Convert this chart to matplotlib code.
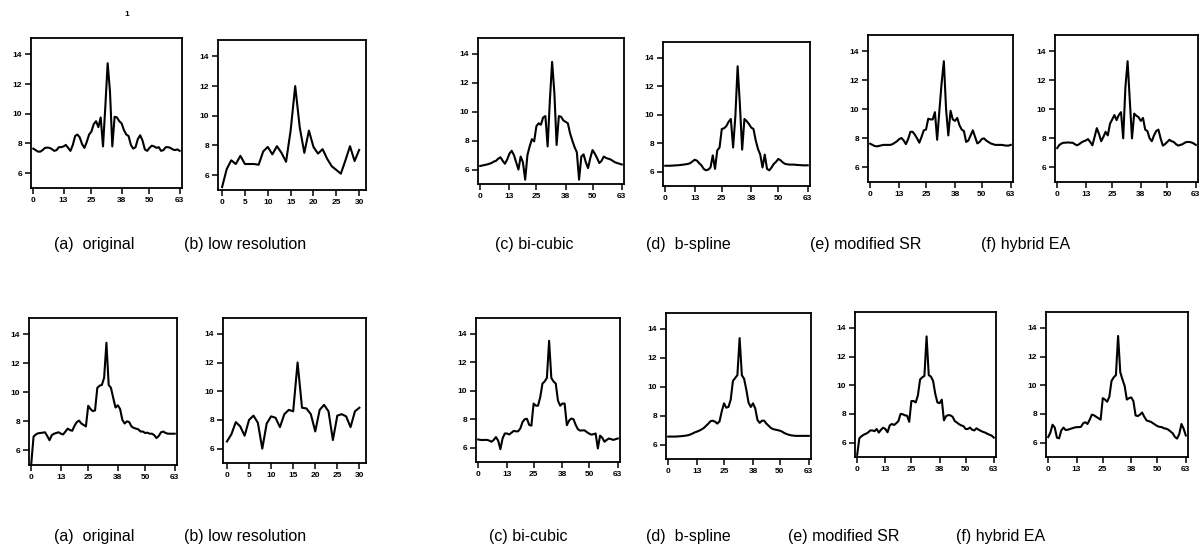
import matplotlib
matplotlib.use("Agg")
import matplotlib.pyplot as plt
import numpy as np

plt.rcParams['font.family'] = ['Liberation Sans', 'DejaVu Sans']

# ---------------- data ----------------
x64_ticks = [0, 13, 25, 38, 50, 63]
x32_ticks = [0, 5, 10, 15, 20, 25, 30]
y_ticks = [6, 8, 10, 12, 14]

captions = ["(a)  original", "(b) low resolution", "(c) bi-cubic",
            "(d)  b-spline", "(e) modified SR", "(f) hybrid EA"]

# top row
top_original = [7.65, 7.55, 7.45, 7.45, 7.55, 7.7, 7.72, 7.7, 7.62, 7.5, 7.55, 7.75, 7.75, 7.8, 7.9, 7.7,
                7.5, 7.9, 8.5, 8.6, 8.4, 7.95, 7.7, 8.1, 8.6, 8.8, 9.3, 9.5, 9.1, 9.75, 7.8, 10.5,
                13.4, 11.5, 7.8, 9.8, 9.75, 9.5, 9.35, 8.9, 8.6, 8.5, 7.9, 7.65, 7.75, 8.3, 8.55, 8.2,
                7.6, 7.5, 7.7, 7.85, 7.8, 7.7, 7.75, 7.5, 7.55, 7.75, 7.75, 7.7, 7.6, 7.55, 7.6, 7.5]
top_lowres = [5.2, 6.4, 7.0, 6.75, 7.3, 6.75, 6.75, 6.75, 6.7, 7.6, 7.9, 7.4, 7.95, 7.5, 6.9, 9.0,
              12.0, 9.2, 7.5, 9.0, 7.9, 7.45, 7.75, 7.1, 6.6, 6.35, 6.1, 7.0, 7.95, 6.95, 7.7]
top_bicubic = [6.25, 6.28, 6.32, 6.35, 6.4, 6.45, 6.55, 6.6, 6.75, 6.85, 6.6, 6.4, 6.7, 7.1, 7.3, 7.0,
               6.5, 6.0, 6.9, 6.5, 5.3, 7.0, 7.6, 8.1, 7.95, 9.0, 9.2, 9.1, 9.6, 9.7, 7.6, 10.8,
               13.45, 11.3, 7.7, 9.7, 9.65, 9.4, 9.3, 9.2, 8.5, 8.0, 7.55, 7.2, 5.3, 6.9, 7.05, 6.5,
               6.1, 6.8, 7.35, 7.1, 6.8, 6.45, 6.6, 6.9, 6.8, 6.75, 6.7, 6.6, 6.5, 6.45, 6.4, 6.35]
top_bspline = [6.42, 6.42, 6.42, 6.43, 6.44, 6.45, 6.46, 6.48, 6.5, 6.52, 6.55, 6.6, 6.72, 6.84, 6.78, 6.6,
               6.45, 6.2, 6.1, 6.15, 6.3, 7.15, 6.2, 7.5, 7.7, 9.0, 9.05, 9.2, 9.5, 9.7, 7.7, 9.9,
               13.4, 10.7, 7.55, 9.7, 9.55, 9.35, 9.1, 9.0, 8.2, 7.6, 7.2, 6.3, 7.2, 6.2, 6.1, 6.3,
               6.55, 6.7, 6.9, 6.8, 6.65, 6.55, 6.52, 6.5, 6.5, 6.5, 6.48, 6.47, 6.46, 6.45, 6.45, 6.45]
top_modsr = [7.63, 7.55, 7.47, 7.45, 7.48, 7.52, 7.55, 7.55, 7.55, 7.55, 7.6, 7.7, 7.8, 7.95, 8.02, 7.85,
             7.6, 7.95, 8.45, 8.45, 8.25, 8.0, 7.7, 8.1, 8.55, 8.6, 9.35, 9.3, 9.3, 9.8, 7.9, 9.9,
             11.8, 13.3, 10.0, 8.2, 9.9, 9.3, 9.2, 9.4, 8.9, 8.6, 8.5, 7.75, 7.85, 8.2, 8.55, 8.1,
             7.65, 7.75, 7.95, 8.0, 7.85, 7.75, 7.65, 7.6, 7.55, 7.55, 7.55, 7.55, 7.52, 7.5, 7.5, 7.55]
top_hybrid = [7.33, 7.55, 7.65, 7.7, 7.7, 7.72, 7.7, 7.7, 7.6, 7.52, 7.6, 7.72, 7.8, 7.85, 7.95, 7.75,
              7.52, 8.1, 8.7, 8.3, 7.8, 8.1, 8.45, 8.2, 9.0, 9.3, 9.6, 9.25, 9.6, 9.8, 8.0, 11.5,
              13.3, 10.6, 8.0, 9.7, 9.55, 9.45, 9.2, 9.4, 8.6, 8.5, 8.0, 7.8, 8.2, 8.5, 8.6, 8.0,
              7.5, 7.6, 7.75, 7.9, 7.8, 7.75, 7.6, 7.5, 7.55, 7.6, 7.7, 7.75, 7.75, 7.72, 7.65, 7.55]

# bottom row
bot_original = [5.1, 6.95, 7.1, 7.18, 7.2, 7.22, 7.25, 7.0, 6.7, 7.05, 7.15, 7.2, 7.25, 7.15, 7.1, 7.3,
                7.5, 7.4, 7.35, 7.7, 7.95, 8.05, 7.85, 7.75, 7.65, 9.07, 8.85, 8.7, 8.75, 10.3, 10.45, 10.5,
                11.0, 13.4, 10.5, 10.3, 9.6, 8.95, 9.1, 8.85, 8.1, 7.85, 8.0, 7.95, 7.65, 7.55, 7.5, 7.45,
                7.3, 7.3, 7.2, 7.22, 7.15, 7.15, 7.05, 6.85, 7.0, 7.25, 7.3, 7.2, 7.15, 7.15, 7.15, 7.15]
bot_lowres = [6.5, 7.0, 7.85, 7.55, 6.9, 8.0, 8.3, 7.8, 6.0, 7.75, 8.25, 8.15, 7.5, 8.4, 8.7, 8.6,
              12.0, 8.85, 8.8, 8.4, 7.2, 8.7, 9.05, 8.6, 6.6, 8.3, 8.4, 8.25, 7.5, 8.6, 8.85]
bot_bicubic = [6.58, 6.55, 6.54, 6.55, 6.55, 6.5, 6.42, 6.55, 6.75, 6.5, 5.9, 6.65, 7.0, 7.0, 6.93, 7.05,
               7.18, 7.15, 7.15, 7.35, 7.8, 8.0, 8.03, 7.6, 7.55, 9.1, 8.95, 8.95, 9.55, 10.5, 10.65, 10.9,
               13.5, 10.9, 10.65, 10.5, 9.3, 8.95, 9.1, 9.1, 7.58, 7.9, 8.05, 8.0, 7.6, 7.3, 7.2, 7.22,
               7.22, 7.1, 7.0, 6.92, 6.95, 7.0, 5.95, 6.85, 6.7, 6.42, 6.55, 6.65, 6.6, 6.55, 6.6, 6.65]
bot_bspline = [6.55, 6.55, 6.55, 6.55, 6.56, 6.57, 6.58, 6.6, 6.62, 6.65, 6.7, 6.77, 6.85, 6.9, 6.97, 7.05,
               7.15, 7.3, 7.45, 7.62, 7.65, 7.58, 7.45, 7.6, 8.3, 8.85, 8.55, 8.6, 9.1, 10.4, 10.6, 10.8,
               13.36, 10.8, 10.55, 9.8, 8.9, 8.6, 8.85, 8.5, 7.7, 7.5, 7.65, 7.65, 7.45, 7.3, 7.15, 7.07,
               7.03, 7.0, 6.96, 6.9, 6.8, 6.73, 6.68, 6.64, 6.62, 6.6, 6.6, 6.6, 6.6, 6.6, 6.6, 6.6]
bot_modsr = [5.15, 6.3, 6.45, 6.55, 6.62, 6.7, 6.85, 6.85, 6.8, 6.95, 6.7, 6.9, 7.04, 6.95, 6.72, 7.2,
             7.3, 7.23, 7.35, 7.5, 8.0, 7.98, 7.9, 7.88, 7.45, 8.9, 8.9, 8.8, 9.3, 10.4, 10.55, 10.65,
             13.4, 10.7, 10.6, 10.3, 9.4, 8.8, 8.75, 9.0, 7.55, 7.85, 7.92, 7.9, 7.8, 7.5, 7.4, 7.28,
             7.2, 7.15, 6.95, 6.95, 7.05, 6.9, 6.85, 7.0, 6.9, 6.82, 6.75, 6.7, 6.62, 6.55, 6.49, 6.35]
bot_hybrid = [6.39, 6.7, 7.25, 7.05, 6.35, 6.3, 6.85, 7.05, 6.88, 6.9, 6.95, 7.0, 7.05, 7.08, 7.08, 7.1,
              7.35, 7.42, 7.3, 7.6, 7.95, 7.9, 7.8, 7.7, 7.6, 9.1, 9.0, 8.85, 9.2, 10.3, 10.55, 10.7,
              13.43, 10.9, 10.4, 9.95, 9.0, 9.1, 9.15, 8.9, 7.9, 7.85, 7.95, 8.1, 7.8, 7.55, 7.5, 7.45,
              7.35, 7.25, 7.15, 7.1, 7.08, 7.0, 6.97, 6.9, 6.78, 6.65, 6.4, 6.28, 6.6, 7.3, 6.97, 6.5]

# ---------------- layout (pixel boxes: x0, y0, x1, y1) ----------------
W, H = 1203, 551
top_boxes = [(31, 38, 182, 188), (218, 40, 366, 190), (478, 38, 624, 184),
             (663, 42, 810, 186), (868, 35, 1013, 182), (1055, 35, 1198, 182)]
bot_boxes = [(29, 318, 177, 465), (223, 318, 366, 463), (476, 318, 620, 462),
             (666, 313, 811, 459), (855, 312, 996, 457), (1046, 312, 1188, 457)]
top_cap_pos = [(94, 245), (245, 245), (534, 245), (688, 245), (866, 245), (1026, 245)]
bot_cap_pos = [(94, 536), (245, 536), (528, 536), (688, 536), (844, 536), (1001, 536)]

top_series = [top_original, top_lowres, top_bicubic, top_bspline, top_modsr, top_hybrid]
bot_series = [bot_original, bot_lowres, bot_bicubic, bot_bspline, bot_modsr, bot_hybrid]

fig = plt.figure(figsize=(W / 100, H / 100), dpi=100)


def make_panel(box, series, lowres):
    x0, y0, x1, y1 = box
    ax = fig.add_axes([x0 / W, 1 - y1 / H, (x1 - x0) / W, (y1 - y0) / H])
    xs = np.arange(len(series))
    ax.plot(xs, series, color='black', lw=1.5, solid_joinstyle='round')
    if lowres:
        ax.set_xlim(-0.9, 31.5)
        ax.set_xticks(x32_ticks)
    else:
        ax.set_xlim(-1, 64)
        ax.set_xticks(x64_ticks)
    ax.set_ylim(5, 15.1)
    ax.set_yticks(y_ticks)
    ax.tick_params(direction='out', length=4, width=1.1, labelsize=6, pad=2.5)
    for lab in ax.get_xticklabels() + ax.get_yticklabels():
        lab.set_fontweight('bold')
    for sp in ax.spines.values():
        sp.set_linewidth(1.3)
    return ax


for i in range(6):
    make_panel(top_boxes[i], top_series[i], i == 1)
    make_panel(bot_boxes[i], bot_series[i], i == 1)

for (cx, cy), cap in zip(top_cap_pos, captions):
    fig.text(cx / W, 1 - cy / H, cap, ha='center', va='center', fontsize=11.5)
for (cx, cy), cap in zip(bot_cap_pos, captions):
    fig.text(cx / W, 1 - cy / H, cap, ha='center', va='center', fontsize=11.5)

fig.text(127 / W, 1 - 15 / H, "1", ha='center', va='center', fontsize=6, fontweight='bold')

fig.savefig("out.png", dpi=100)
